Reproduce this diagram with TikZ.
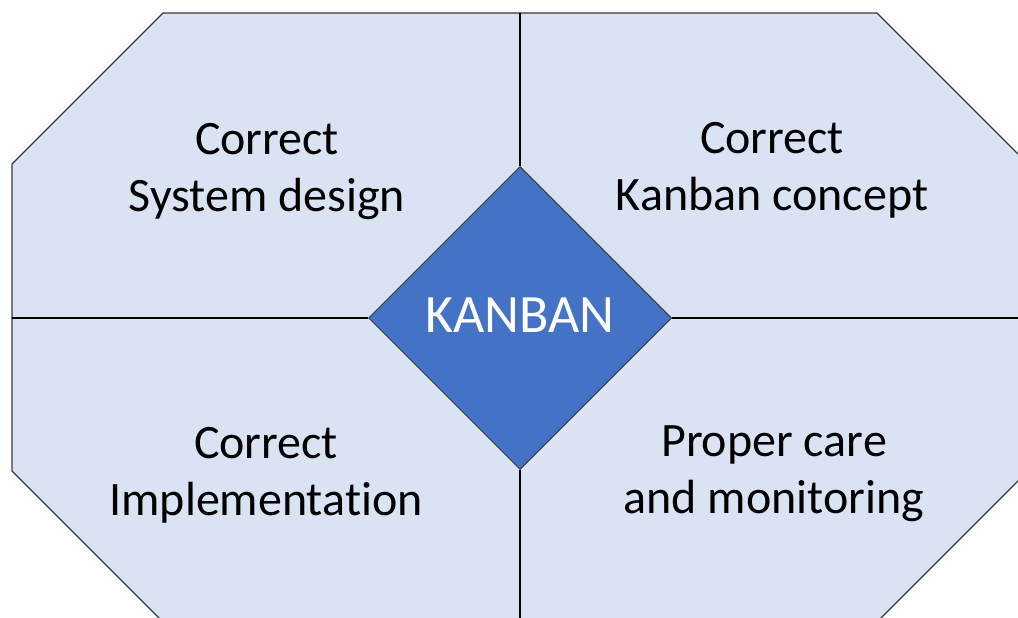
\documentclass[tikz,border=0pt]{standalone}
\usepackage{fontspec}
\setmainfont{Carlito}[Ligatures=NoCommon]
\usetikzlibrary{shapes.geometric}
\definecolor{panel}{HTML}{DAE3F3}
\definecolor{hub}{HTML}{4472C4}
\definecolor{edge}{HTML}{3A3A3A}
\tikzset{
  outline/.style={draw=edge, line width=1.1pt, fill=panel, line join=miter},
  divider/.style={draw=black, line width=1.1pt},
  label/.style={align=center, anchor=base, inner sep=0pt, font=\fontsize{48}{57}\selectfont},
  hubbox/.style={diamond, aspect=1, draw=edge, line width=1pt, fill=hub,
    minimum width=303pt, minimum height=303pt, inner sep=0pt}
}
\begin{document}
\begin{tikzpicture}[x=1pt, y=-1pt]
  \useasboundingbox (0,0) rectangle (1018,618);
  \clip (0,0) rectangle (1018,618);
  % octagonal panel
  \draw[outline] (163,13) -- (877,13) -- (1028,164) -- (1028,471) -- (877,622)
    -- (163,622) -- (12,471) -- (12,164) -- cycle;
  % edge points of the dividers
  \coordinate (top) at (520,13);
  \coordinate (bottom) at (520,622);
  \coordinate (left) at (12,318);
  \coordinate (right) at (1028,318);
  % central diamond
  \node[hubbox] (kanban) at (520,318) {};
  \node[font=\fontsize{54}{60}\selectfont, text=white, anchor=base, inner sep=0pt] (kanbantext) at (520,332) {KANBAN};
  \draw[divider] (top) -- (kanban.north);
  \draw[divider] (kanban.south) -- (bottom);
  \draw[divider] (left) -- (kanban.west);
  \draw[divider] (kanban.east) -- (right);
  % quadrant labels (anchored at the baseline of their last line)
  \node[label] (design) at (267,211) {Correct\\System design};
  \node[label] (concept) at (772,210) {Correct\\Kanban concept};
  \node[label] (impl) at (266,515) {Correct\\Implementation};
  \node[label] (care) at (774,513) {Proper care\\and monitoring};
\end{tikzpicture}
\end{document}
